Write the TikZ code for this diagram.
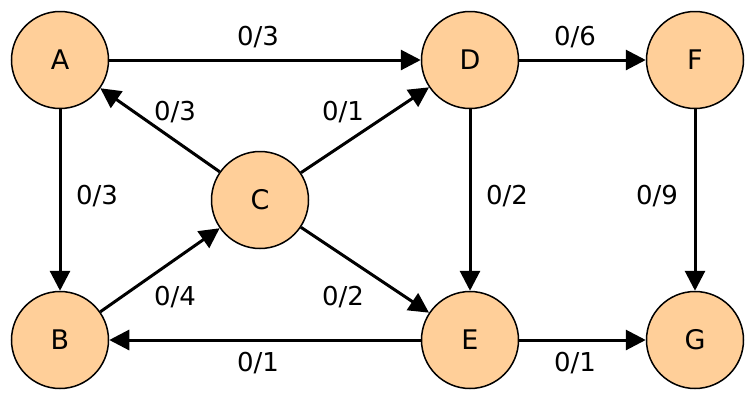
\documentclass[tikz,border=0pt]{standalone}
\usepackage{fontspec}
\setmainfont{DejaVu Sans}
\usetikzlibrary{arrows.meta}
\definecolor{nodefill}{RGB}{255,207,153}
\begin{document}
\begin{tikzpicture}[x=1pt,y=-1pt,
  vert/.style={circle,draw=black,line width=1.5pt,fill=nodefill,minimum size=97pt,inner sep=0pt,font=\fontsize{27}{27}\selectfont},
  edge/.style={line width=3pt,-{Triangle[length=20pt,width=20pt]}},
  lab/.style={font=\fontsize{26}{26}\selectfont}]
\useasboundingbox (0,0) rectangle (750,400);
\node[vert] (A) at (60,60) {A};
\node[vert] (D) at (470,60) {D};
\node[vert] (F) at (695,60) {F};
\node[vert] (C) at (260,200) {C};
\node[vert] (B) at (60,340) {B};
\node[vert] (E) at (470,340) {E};
\node[vert] (G) at (695,340) {G};
\draw[edge] (A) -- (D);
\draw[edge] (D) -- (F);
\draw[edge] (C) -- (A);
\draw[edge] (C) -- (D);
\draw[edge] (A) -- (B);
\draw[edge] (D) -- (E);
\draw[edge] (F) -- (G);
\draw[edge] (B) -- (C);
\draw[edge] (C) -- (E);
\draw[edge] (E) -- (B);
\draw[edge] (E) -- (G);
\node[lab] (l1) at (258,37) {0/3};
\node[lab] (l2) at (575,37) {0/6};
\node[lab] (l3) at (175,112) {0/3};
\node[lab] (l4) at (343,112) {0/1};
\node[lab] (l5) at (97,196) {0/3};
\node[lab] (l6) at (507,196) {0/2};
\node[lab] (l7) at (657,196) {0/9};
\node[lab] (l8) at (175,297) {0/4};
\node[lab] (l9) at (343,297) {0/2};
\node[lab] (l10) at (258,363) {0/1};
\node[lab] (l11) at (575,363) {0/1};
\end{tikzpicture}
\end{document}
